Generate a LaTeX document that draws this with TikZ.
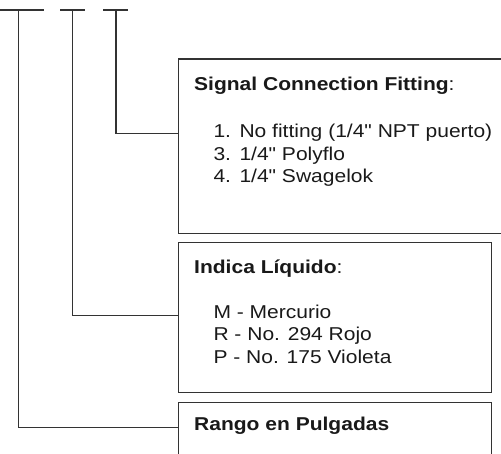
\documentclass[tikz,border=0pt]{standalone}
\usepackage{fontspec}
\setmainfont{Liberation Sans}[FakeStretch=1.13, Ligatures=TeXOff]
\usepackage{tikz}

\begin{document}
\begin{tikzpicture}[x=1pt,y=-1pt]
\tikzstyle{box} = [rectangle, anchor=north west, inner sep=0pt, draw=black!80, line width=1.3pt]
\tikzstyle{txt} = [anchor=base west, inner sep=0pt, text=black!90, font=\fontsize{18.6}{22.4}\selectfont]
\tikzstyle{lead} = [draw=black!80, line width=1.3pt]
\clip (0,0) rectangle (501,453);
\node (Q1) [box, minimum width=340pt, minimum height=174.7pt] at (177.7,58.3) {};
\node (Q2) [box, minimum width=313.3pt, minimum height=150.3pt] at (177.7,241.7) {};
\node (Q3) [box, minimum width=313.3pt, minimum height=100pt] at (177.7,402) {};

\path (194,90) node[txt] (S) {\textbf{Signal Connection Fitting}:} +(19.3,47.7) node[txt] (S1) {\makebox[26pt][l]{1.}No fitting (1/4" NPT puerto)} +(19.3,70.1) node[txt] (S3) {\makebox[26pt][l]{3.}1/4" Polyflo} +(19.3,92.5) node[txt] (S4) {\makebox[26pt][l]{4.}1/4" Swagelok};
\path (194,273.3) node[txt] (I) {\textbf{Indica Líquido}:} +(19.3,45) node[txt] (IM) {M - Mercurio} +(19.3,67.4) node[txt] (IR) {R - No. 294 Rojo} +(19.3,89.8) node[txt] (IP) {P - No. 175 Violeta};
\path (194,430.7) node[txt] (R) {\textbf{Rango en Pulgadas}};

\coordinate (L1) at (0,10); \coordinate (R1) at (44,10); \coordinate (T1) at (18.3,10);
\coordinate (L2) at (60,10); \coordinate (R2) at (85,10); \coordinate (T2) at (72.3,10);
\coordinate (L3) at (103,10); \coordinate (R3) at (128,10); \coordinate (T3) at (116,10);
\coordinate (E1) at (177.7,133.3);
\coordinate (E2) at (177.7,315.7);
\coordinate (E3) at (177.7,427.7);
\draw[lead] (L1)--(R1);
\draw[lead] (L2)--(R2);
\draw[lead] (L3)--(R3);
\draw[lead] (T3) |- (E1);
\draw[lead] (T2) |- (E2);
\draw[lead] (T1) |- (E3);
\end{tikzpicture}
\end{document}
